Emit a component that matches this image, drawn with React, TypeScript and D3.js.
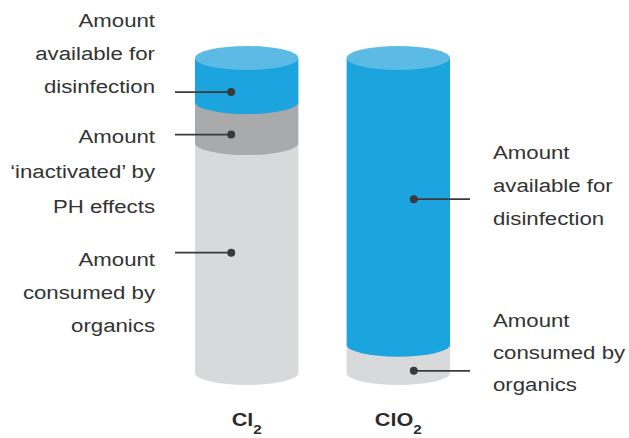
import React from "react";
import * as d3 from "d3";

// ---- data ----
const categories = ["Cl2", "ClO2"];
const categoryBase = ["Cl", "ClO"];
const categorySub = ["2", "2"];
const consumedByOrganics = [73, 9];
const inactivatedByPH = [13, 0];
const availableForDisinfection = [14, 91];

const annCategory = ["Cl2", "Cl2", "Cl2", "ClO2", "ClO2"];
const annValue = [93, 79.5, 42, 59, 4.5];
const annSide = ["left", "left", "left", "right", "right"];
const annLines = [
  ["Amount", "available for", "disinfection"],
  ["Amount", "\u2018inactivated\u2019 by", "PH effects"],
  ["Amount", "consumed by", "organics"],
  ["Amount", "available for", "disinfection"],
  ["Amount", "consumed by", "organics"],
];

// ---- layout ----
const W = 629;
const H = 438;
const RY = 12;
const textFirstDy = [-65, 8, 13, -40, -44];
const textSpacing = [33, 35, 33, 33, 32];
const FONT = "'Liberation Sans', Arial, Helvetica, sans-serif";
const SX = 1.17;

const segColors = ["#d7d9db", "#a9aaac", "#1ba4de"];
const topColors = ["#e4e6e8", "#bcbdbf", "#5bbbe5"];

export default function App() {
  const x = d3.scaleBand<string>().domain(categories).range([195, 450]).paddingInner(0.318).paddingOuter(0);
  const y = d3.scaleLinear().domain([0, 100]).range([373, 58]);
  const rx = x.bandwidth() / 2;

  const series = [consumedByOrganics, inactivatedByPH, availableForDisinfection];

  const cylinders = categories.map((c, ci) => {
    const cx = (x(c) as number) + rx;
    let acc = 0;
    const segs: { v0: number; v1: number; si: number }[] = [];
    series.forEach((s, si) => {
      const v = s[ci];
      if (v > 0) {
        segs.push({ v0: acc, v1: acc + v, si });
        acc += v;
      }
    });
    const paths = segs.map((sg) => {
      const yTop = y(sg.v1);
      const yBot = y(sg.v0);
      const d = `M${cx - rx},${yTop} L${cx - rx},${yBot} A${rx},${RY} 0 0 0 ${cx + rx},${yBot} L${cx + rx},${yTop} Z`;
      return <path key={sg.si} d={d} fill={segColors[sg.si]} />;
    });
    const topSeg = segs[segs.length - 1];
    return (
      <g key={c}>
        {paths}
        <ellipse cx={cx} cy={y(topSeg.v1)} rx={rx} ry={RY} fill={topColors[topSeg.si]} />
      </g>
    );
  });

  const annotations = annCategory.map((c, i) => {
    const cx = (x(c) as number) + rx;
    const left = annSide[i] === "left";
    const dotX = left ? cx - 15.5 : cx + 15.5;
    const dotY = y(annValue[i]) + RY;
    const lineEnd = left ? 175 : 470;
    const textX = left ? 155 : 493;
    return (
      <g key={i}>
        <line x1={lineEnd} y1={dotY} x2={dotX} y2={dotY} stroke="#3a3a3a" strokeWidth={1.8} />
        <circle cx={dotX} cy={dotY} r={4} fill="#3a3a3a" />
        {annLines[i].map((t, li) => (
          <text
            key={li}
            transform={`translate(${textX},${dotY + textFirstDy[i] + li * textSpacing[i]}) scale(${SX},1)`}
            textAnchor={left ? "end" : "start"}
            fontFamily={FONT}
            fontSize={19}
            fill="#333"
          >
            {t}
          </text>
        ))}
      </g>
    );
  });

  const catLabels = categories.map((c, ci) => {
    const cx = (x(c) as number) + rx;
    return (
      <text
        key={c}
        transform={`translate(${cx},426) scale(${SX},1)`}
        textAnchor="middle"
        fontFamily={FONT}
        fontWeight="bold"
        fontSize={18.5}
        fill="#2a2a2a"
      >
        {categoryBase[ci]}
        <tspan fontSize={13} dy={8}>
          {categorySub[ci]}
        </tspan>
      </text>
    );
  });

  return (
    <svg
      width={W}
      height={H}
      viewBox={`0 0 ${W} ${H}`}
      style={{ position: "absolute", left: 0, top: 0, background: "#fff" }}
    >
      <rect width={W} height={H} fill="#fff" />
      {cylinders}
      {annotations}
      {catLabels}
    </svg>
  );
}
